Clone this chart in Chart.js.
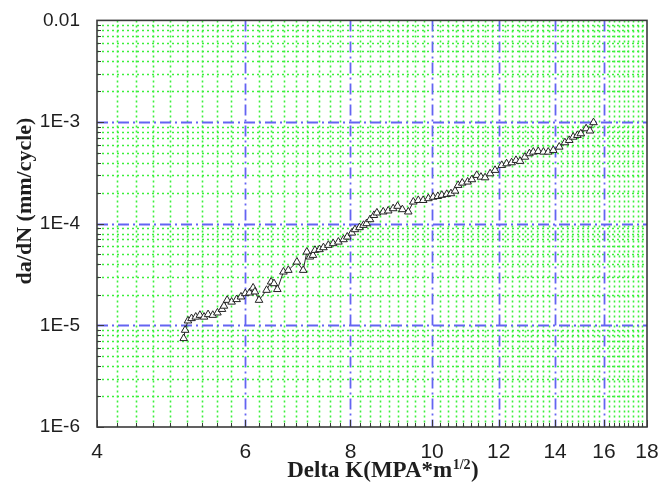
<!DOCTYPE html>
<html>
<head>
<meta charset="utf-8">
<title>da/dN vs Delta K</title>
<script src="https://cdn.jsdelivr.net/npm/chart.js@4/dist/chart.umd.min.js"></script>
<style>
  html, body { margin: 0; padding: 0; background: #ffffff; }
  #wrap { width: 672px; height: 486px; }
</style>
</head>
<body>
<div id="wrap"><canvas id="c" width="672" height="486"></canvas></div>
<script>
// Stress intensity factor range (MPa*m^1/2)
const deltaK = [5.07, 5.09, 5.13, 5.18, 5.24, 5.30, 5.36, 5.42, 5.49, 5.56, 5.63, 5.66, 5.71, 5.78, 5.86, 5.93,
  6.00, 6.07, 6.13, 6.16, 6.23, 6.36, 6.44, 6.49, 6.55, 6.66, 6.75, 6.91, 7.03, 7.10, 7.16, 7.22, 7.26, 7.35,
  7.43, 7.53, 7.63, 7.74, 7.85, 7.93, 8.03, 8.10, 8.20, 8.29, 8.36, 8.44, 8.53, 8.60, 8.75, 8.87, 8.99, 9.10,
  9.22, 9.37, 9.50, 9.63, 9.76, 9.90, 10.03, 10.16, 10.27, 10.41, 10.53, 10.65, 10.74, 10.86, 11.02, 11.15,
  11.30, 11.43, 11.56, 11.72, 11.88, 12.10, 12.26, 12.43, 12.58, 12.72, 12.89, 13.05, 13.19, 13.37, 13.56,
  13.74, 13.93, 14.16, 14.38, 14.55, 14.71, 14.88, 15.02, 15.24, 15.40, 15.55];

// Crack growth rate (mm/cycle)
const dadN = [7.44e-6, 8.98e-6, 1.11e-5, 1.17e-5, 1.21e-5, 1.26e-5, 1.21e-5, 1.28e-5, 1.26e-5, 1.33e-5,
  1.44e-5, 1.55e-5, 1.77e-5, 1.70e-5, 1.80e-5, 1.91e-5, 2.06e-5, 2.09e-5, 2.34e-5, 2.14e-5, 1.77e-5, 2.22e-5,
  2.68e-5, 2.58e-5, 2.26e-5, 3.36e-5, 3.49e-5, 4.21e-5, 3.49e-5, 5.28e-5, 4.72e-5, 4.90e-5, 5.49e-5, 5.58e-5,
  5.83e-5, 6.15e-5, 6.39e-5, 6.62e-5, 6.99e-5, 7.42e-5, 8.12e-5, 8.77e-5, 9.18e-5, 9.67e-5, 1.005e-4, 1.10e-4,
  1.21e-4, 1.28e-4, 1.31e-4, 1.34e-4, 1.41e-4, 1.49e-4, 1.38e-4, 1.31e-4, 1.64e-4, 1.70e-4, 1.70e-4, 1.77e-4,
  1.83e-4, 1.86e-4, 1.91e-4, 1.95e-4, 1.98e-4, 2.10e-4, 2.39e-4, 2.52e-4, 2.58e-4, 2.72e-4, 3.00e-4, 2.88e-4,
  2.84e-4, 3.11e-4, 3.36e-4, 3.76e-4, 3.90e-4, 3.99e-4, 4.21e-4, 4.12e-4, 4.53e-4, 4.90e-4, 5.08e-4, 5.16e-4,
  5.08e-4, 5.08e-4, 5.28e-4, 5.69e-4, 6.28e-4, 6.62e-4, 7.13e-4, 7.41e-4, 7.70e-4, 8.62e-4, 8.20e-4, 9.90e-4];

// Axis ticks and their labels
const xTicks = [4, 6, 8, 10, 12, 14, 16, 18];
const xTickLabels = ['4', '6', '8', '10', '12', '14', '16', '18'];
const yTicks = [1e-6, 1e-5, 1e-4, 1e-3, 1e-2];
const yTickLabels = ['1E-6', '1E-5', '1E-4', '1E-3', '0.01'];

const yTitle = 'da/dN (mm/cycle)';
const xTitleMain = 'Delta K(MPA*m';
const xTitleSup = '1/2';
const xTitleEnd = ')';

// Minor divisions: eight evenly spaced values between neighbouring major ticks
function minorsBetween(majors) {
  const out = [];
  for (let i = 0; i < majors.length - 1; i++) {
    const a = majors[i], b = majors[i + 1];
    for (let k = 1; k <= 8; k++) out.push(a + (b - a) * k / 9);
  }
  return out;
}
const xMinor = minorsBetween(xTicks);
const yMinor = minorsBetween(yTicks);

const points = deltaK.map((k, i) => ({ x: k, y: dadN[i] }));

const frameColor = '#3a3a3a';

const sheetPlugin = {
  id: 'sheetGrid',
  beforeDatasetsDraw(chart) {
    const { ctx, chartArea: a, scales } = chart;
    const xs = scales.x, ys = scales.y;
    ctx.save();
    ctx.beginPath();
    ctx.rect(a.left, a.top, a.right - a.left, a.bottom - a.top);
    ctx.clip();
    const vline = (p) => { ctx.beginPath(); ctx.moveTo(p, a.top); ctx.lineTo(p, a.bottom); ctx.stroke(); };
    const hline = (p) => { ctx.beginPath(); ctx.moveTo(a.left, p); ctx.lineTo(a.right, p); ctx.stroke(); };

    // dotted minor grid
    ctx.strokeStyle = '#3cf03c';
    ctx.lineWidth = 1.6;
    ctx.setLineDash([2, 3]);
    xMinor.forEach(v => vline(Math.round(xs.getPixelForValue(v)) + 0.5));
    yMinor.forEach(v => hline(Math.round(ys.getPixelForValue(v)) + 0.5));

    // dash-dot major grid
    ctx.strokeStyle = '#6464f2';
    ctx.lineWidth = 1.8;
    ctx.setLineDash([11, 4, 2, 4]);
    xTicks.slice(1, -1).forEach(v => vline(Math.round(xs.getPixelForValue(v)) + 0.5));
    yTicks.slice(1, -1).forEach(v => hline(Math.round(ys.getPixelForValue(v)) + 0.5));
    ctx.restore();
  },
  afterDatasetsDraw(chart) {
    const { ctx, chartArea: a, scales } = chart;
    const xs = scales.x, ys = scales.y;
    ctx.save();
    ctx.setLineDash([]);
    ctx.strokeStyle = frameColor;
    ctx.lineWidth = 1;
    // inward tick marks on the left and bottom axes
    const tickY = (v, len) => { const p = Math.round(ys.getPixelForValue(v)) + 0.5; ctx.beginPath(); ctx.moveTo(a.left, p); ctx.lineTo(a.left + len, p); ctx.stroke(); };
    const tickX = (v, len) => { const p = Math.round(xs.getPixelForValue(v)) + 0.5; ctx.beginPath(); ctx.moveTo(p, a.bottom); ctx.lineTo(p, a.bottom - len); ctx.stroke(); };
    yMinor.forEach(v => tickY(v, 4));
    yTicks.forEach(v => tickY(v, 7));
    xMinor.forEach(v => tickX(v, 4));
    xTicks.forEach(v => tickX(v, 7));
    // frame
    ctx.lineWidth = 1.6;
    ctx.strokeRect(a.left, a.top, a.right - a.left, a.bottom - a.top);

    // axis titles
    ctx.fillStyle = '#1e1e1e';
    ctx.font = 'bold 22px "Liberation Serif", "Times New Roman", serif';
    ctx.textBaseline = 'middle';
    ctx.textAlign = 'center';
    ctx.save();
    ctx.translate(25, 201);
    ctx.rotate(-Math.PI / 2);
    ctx.fillText(yTitle, 0, 0);
    ctx.restore();

    const mainFont = 'bold 23px "Liberation Serif", "Times New Roman", serif';
    const supFont = 'bold 14px "Liberation Serif", "Times New Roman", serif';
    ctx.textBaseline = 'alphabetic';
    ctx.textAlign = 'left';
    ctx.font = mainFont;
    const w1 = ctx.measureText(xTitleMain).width;
    const w3 = ctx.measureText(xTitleEnd).width;
    ctx.font = supFont;
    const w2 = ctx.measureText(xTitleSup).width;
    const total = w1 + w2 + w3 + 1;
    let sx = 383 - total / 2;
    const base = 477;
    ctx.font = mainFont;
    ctx.fillText(xTitleMain, sx, base);
    sx += w1 + 0.5;
    ctx.font = supFont;
    ctx.fillText(xTitleSup, sx, base - 8);
    sx += w2 + 0.5;
    ctx.font = mainFont;
    ctx.fillText(xTitleEnd, sx, base);
    ctx.restore();
  }
};

new Chart(document.getElementById('c'), {
  type: 'scatter',
  data: {
    datasets: [{
      data: points,
      showLine: true,
      borderColor: '#2a2a2a',
      borderWidth: 1,
      pointStyle: 'triangle',
      pointRadius: 4.4,
      pointBackgroundColor: '#ffffff',
      pointBorderColor: '#222222',
      pointBorderWidth: 1,
      tension: 0
    }]
  },
  options: {
    responsive: false,
    animation: false,
    devicePixelRatio: 1,
    layout: { padding: { left: 0, top: 20, right: 25, bottom: 0 } },
    plugins: { legend: { display: false }, tooltip: { enabled: false }, title: { display: false } },
    scales: {
      x: {
        type: 'logarithmic',
        position: 'bottom',
        min: 4,
        max: 18,
        grid: { display: false },
        border: { display: false },
        afterBuildTicks: (s) => { s.ticks = xTicks.map(v => ({ value: v })); },
        afterFit: (s) => { s.height = 59; },
        ticks: {
          autoSkip: false,
          maxRotation: 0,
          padding: 5,
          color: '#1e1e1e',
          font: { family: '"Liberation Sans", Arial, sans-serif', size: 21 },
          callback: (v) => { const i = xTicks.indexOf(v); return i >= 0 ? xTickLabels[i] : ''; }
        }
      },
      y: {
        type: 'logarithmic',
        position: 'left',
        min: 1e-6,
        max: 1e-2,
        grid: { display: false },
        border: { display: false },
        afterBuildTicks: (s) => { s.ticks = yTicks.map(v => ({ value: v })); },
        afterFit: (s) => { s.width = 97; },
        ticks: {
          autoSkip: false,
          padding: 9,
          color: '#1e1e1e',
          font: { family: '"Liberation Sans", Arial, sans-serif', size: 19 },
          callback: (v) => {
            const i = yTicks.findIndex(t => Math.abs(t - v) / t < 1e-6);
            return i >= 0 ? yTickLabels[i] : '';
          }
        }
      }
    }
  },
  plugins: [sheetPlugin]
});
</script>
</body>
</html>
